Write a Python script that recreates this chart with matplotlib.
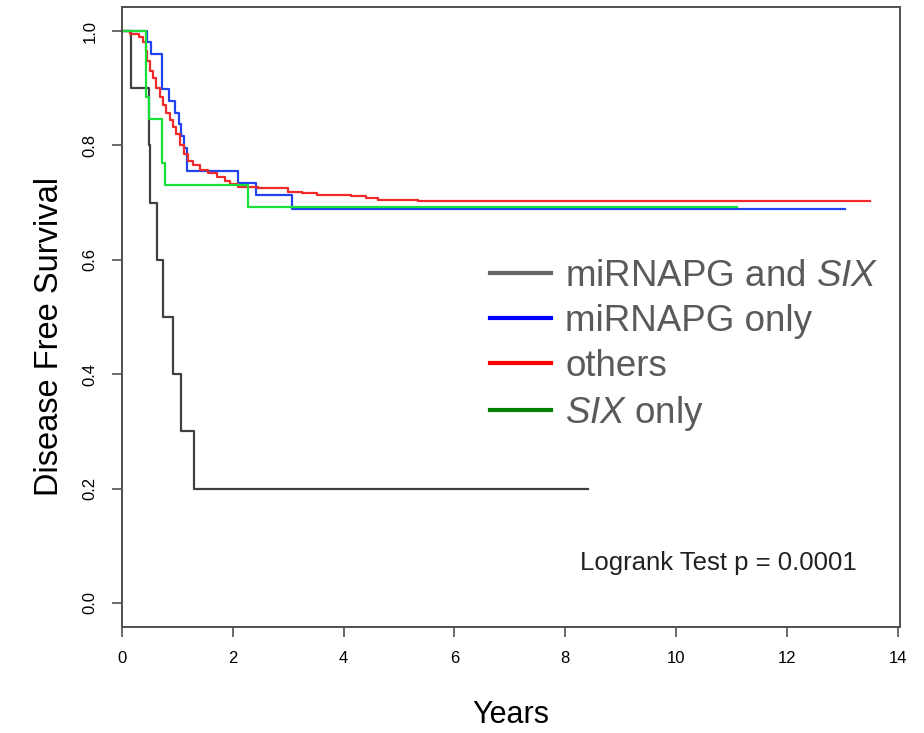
import matplotlib
matplotlib.use("Agg")
import matplotlib.pyplot as plt
from matplotlib.lines import Line2D

plt.rcParams['font.family'] = ['Liberation Sans', 'DejaVu Sans']
plt.rcParams['mathtext.fontset'] = 'custom'
plt.rcParams['mathtext.rm'] = 'Liberation Sans'
plt.rcParams['mathtext.it'] = 'Liberation Sans:italic'

# Kaplan-Meier steps (years, survival)
both_t = [0, 0.17, 0.49, 0.51, 0.625, 0.745, 0.913, 1.058, 1.30, 8.41]
both_s = [1.0, 0.9, 0.8, 0.7, 0.6, 0.5, 0.4, 0.3, 0.2, 0.2]

mir_t = [0, 0.46, 0.52, 0.72, 0.85, 0.96, 1.02, 1.07, 1.12, 1.17, 2.10, 2.41, 3.06, 13.05]
mir_s = [1.0, 0.98, 0.96, 0.898, 0.878, 0.857, 0.837, 0.816, 0.796, 0.755, 0.734, 0.713, 0.689, 0.689]

oth_t = [0, 0.15, 0.30, 0.38, 0.43, 0.46, 0.50, 0.56, 0.62, 0.68, 0.74, 0.80, 0.86, 0.92,
         0.98, 1.05, 1.12, 1.20, 1.28, 1.40, 1.55, 1.72, 1.85, 1.95, 2.10, 2.45, 3.00,
         3.24, 3.51, 4.14, 4.41, 4.62, 5.35, 13.5]
oth_s = [1.0, 0.995, 0.99, 0.98, 0.965, 0.947, 0.93, 0.918, 0.90, 0.885, 0.870, 0.857, 0.845, 0.833,
         0.82, 0.80, 0.785, 0.772, 0.765, 0.757, 0.752, 0.745, 0.738, 0.733, 0.728, 0.725, 0.719,
         0.716, 0.713, 0.711, 0.708, 0.705, 0.703, 0.703]

six_t = [0, 0.43, 0.48, 0.73, 0.77, 2.27, 11.1]
six_s = [1.0, 0.885, 0.846, 0.769, 0.731, 0.692, 0.692]

labels = [r'miRNAPG and $\mathit{SIX}$', 'miRNAPG only', 'others', r'$\mathit{SIX}$ only']
curve_colors = ['#404040', '#2244ee', '#ee2a2a', '#18e038']
legend_colors = ['#666666', '#0000ff', '#ff0000', '#008000']

fig = plt.figure(figsize=(9.24, 7.33), dpi=100)
ax = fig.add_axes([122 / 924, 1 - 627 / 733, 778 / 924, 620 / 733])

for t, s, c in zip([both_t, mir_t, oth_t, six_t], [both_s, mir_s, oth_s, six_s], curve_colors):
    ax.step(t, s, where='post', color=c, lw=1.6)

ax.set_xlim(0, 14.04)
ax.set_ylim(-0.042, 1.042)
ax.set_xticks(range(0, 15, 2))
ax.set_yticks([0.0, 0.2, 0.4, 0.6, 0.8, 1.0])
ax.set_yticklabels(['0.0', '0.2', '0.4', '0.6', '0.8', '1.0'], rotation=90, va='center')
for sp in ax.spines.values():
    sp.set_color('#505050')
    sp.set_linewidth(1.4)
ax.tick_params(length=7.5, width=1.2, color='#505050', labelsize=12, pad=10)

ax.set_xlabel('Years', fontsize=22, labelpad=24)
ax.set_ylabel('Disease Free Survival', fontsize=23.5)
ax.yaxis.set_label_coords(-0.0736, 0.468)

ax.text(0.945, 0.103, 'Logrank Test p = 0.0001', transform=ax.transAxes,
        ha='right', va='center', fontsize=18.5, color='#222222')

handles = [Line2D([], [], color=c, lw=3) for c in legend_colors]
leg = fig.legend(handles, labels, loc='center left', bbox_to_anchor=(490 / 924, 1 - 346 / 733),
                 frameon=False, fontsize=26.5, handlelength=1.65, handletextpad=0.4,
                 labelspacing=0.27, borderpad=0, borderaxespad=0)
for txt in leg.get_texts():
    txt.set_color('#5a5a5a')

fig.savefig('out.png', dpi=100)
